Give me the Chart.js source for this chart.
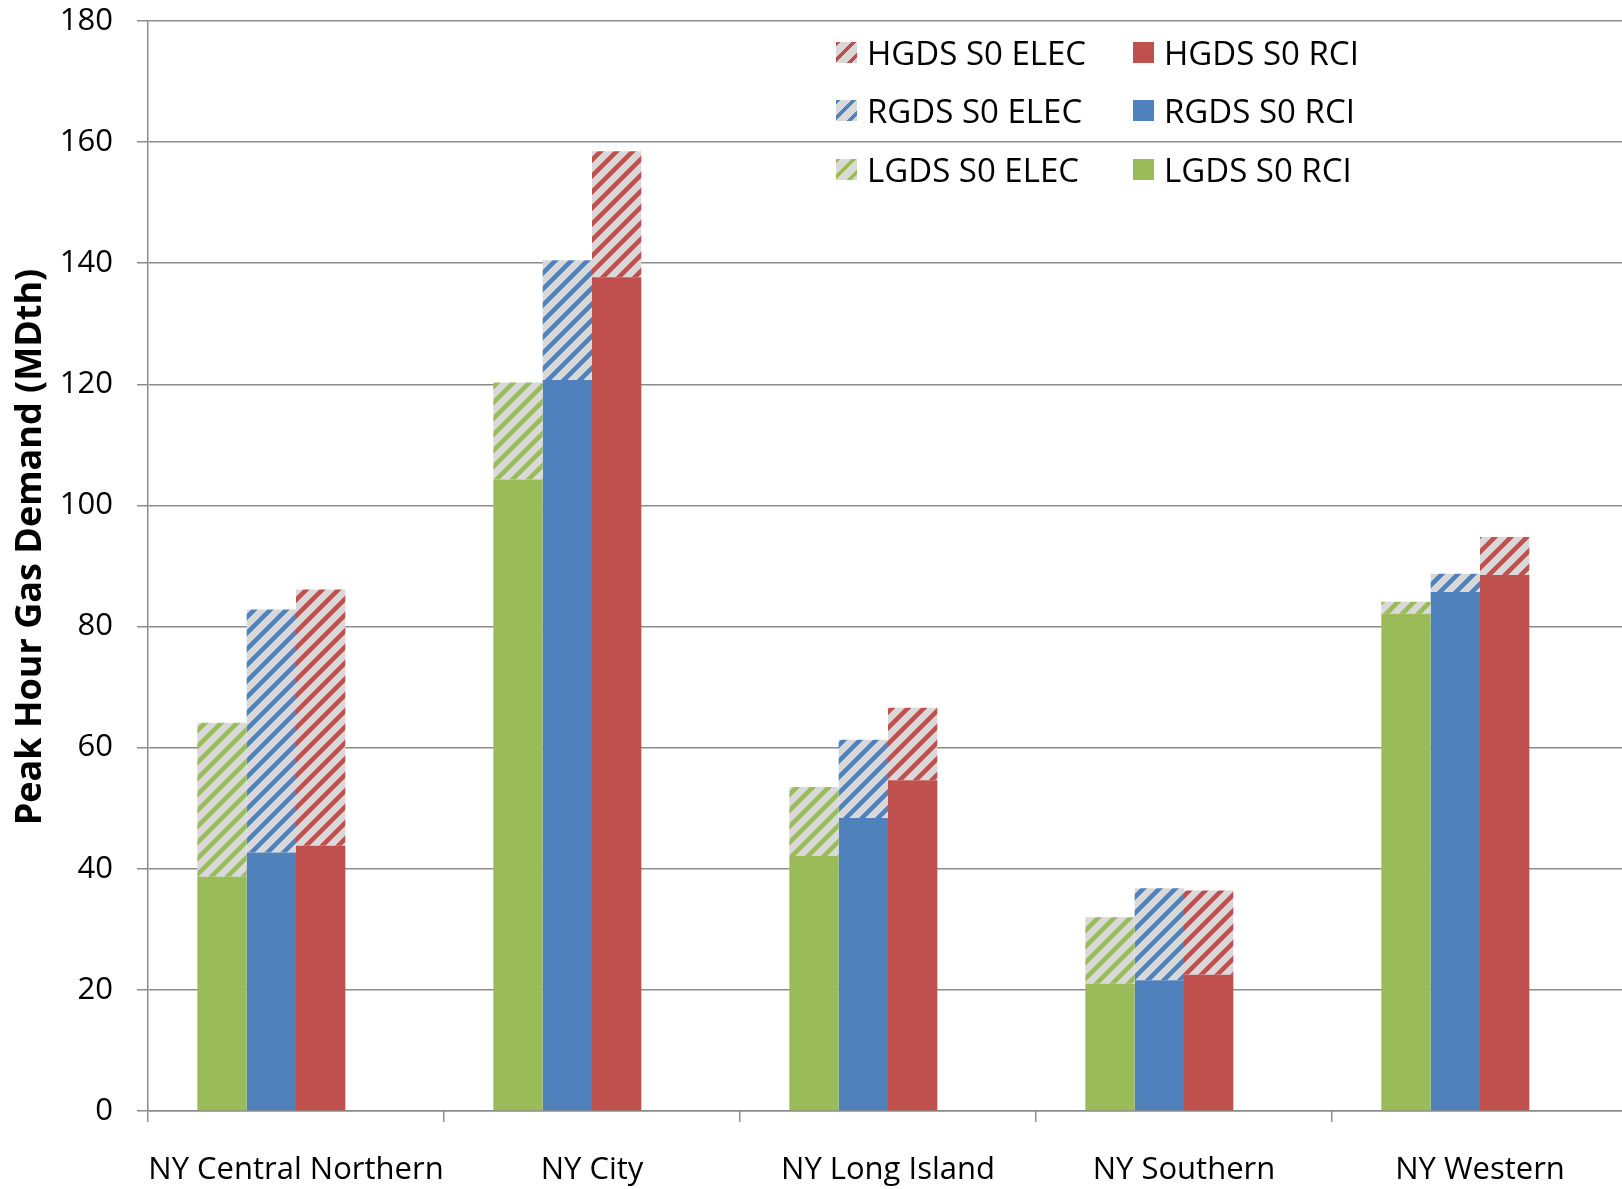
<!DOCTYPE html>
<html><head><meta charset="utf-8">
<script src="https://cdn.jsdelivr.net/npm/chart.js@4.4.1/dist/chart.umd.min.js"></script>
<style>
html,body{margin:0;padding:0;overflow:hidden;background:#fff;width:1622px;height:1189px;}
#wrap{position:relative;width:1622px;height:1189px;overflow:hidden;background:#fff;}
#c{position:absolute;left:0;top:0;}
.lg{position:absolute;height:34px;display:flex;align-items:center;font-family:"Open Sans";font-size:33px;color:#000;white-space:nowrap;}
.sw{width:21px;height:21px;margin-right:10px;flex:none;}
</style></head><body>
<div id="wrap"><canvas id="c" width="1630" height="1189" style="width:1630px;height:1189px"></canvas><div id="legend"></div></div>
<script>
// ---- data ----
const categories = ["NY Central Northern", "NY City", "NY Long Island", "NY Southern", "NY Western"];
const lgdsRci  = [38.7, 104.3, 42.1, 21.0, 82.1];
const lgdsElec = [25.4, 16.0, 11.4, 11.0, 2.0];
const rgdsRci  = [42.7, 120.7, 48.4, 21.6, 85.7];
const rgdsElec = [40.1, 19.8, 12.9, 15.2, 3.0];
const hgdsRci  = [43.8, 137.7, 54.6, 22.5, 88.5];
const hgdsElec = [42.3, 20.8, 12.0, 13.9, 6.3];
const yTicks = [0, 20, 40, 60, 80, 100, 120, 140, 160, 180];
const yTitle = "Peak Hour Gas Demand (MDth)";

const GREEN = '#9BBB59', BLUE = '#4F81BD', RED = '#C0504D', HATCH_BG = '#D9D9D9';

function hatch(color) {
  const s = 16;
  const c = document.createElement('canvas'); c.width = s; c.height = s;
  const x = c.getContext('2d');
  x.fillStyle = HATCH_BG; x.fillRect(0, 0, s, s);
  x.strokeStyle = color; x.lineWidth = 4.5; x.lineCap = 'square';
  x.beginPath();
  x.moveTo(-s/2, s/2); x.lineTo(s/2, -s/2);
  x.moveTo(0, s); x.lineTo(s, 0);
  x.moveTo(s/2, 1.5*s); x.lineTo(1.5*s, s/2);
  x.stroke();
  return document.getElementById('c').getContext('2d').createPattern(c, 'repeat');
}

const datasets = [
  {label: 'LGDS S0 RCI',  data: lgdsRci,  backgroundColor: GREEN,        stack: 'L'},
  {label: 'LGDS S0 ELEC', data: lgdsElec, backgroundColor: hatch(GREEN), stack: 'L'},
  {label: 'RGDS S0 RCI',  data: rgdsRci,  backgroundColor: BLUE,         stack: 'R'},
  {label: 'RGDS S0 ELEC', data: rgdsElec, backgroundColor: hatch(BLUE),  stack: 'R'},
  {label: 'HGDS S0 RCI',  data: hgdsRci,  backgroundColor: RED,          stack: 'H'},
  {label: 'HGDS S0 ELEC', data: hgdsElec, backgroundColor: hatch(RED),   stack: 'H'},
  {label: '', data: categories.map(() => null), backgroundColor: 'rgba(0,0,0,0)', stack: 'Z'}
];

// ---- legend (HTML) ----
const legendItems = [
  {label: 'HGDS S0 ELEC', color: RED,   hatched: true,  col: 0, row: 0},
  {label: 'HGDS S0 RCI',  color: RED,   hatched: false, col: 1, row: 0},
  {label: 'RGDS S0 ELEC', color: BLUE,  hatched: true,  col: 0, row: 1},
  {label: 'RGDS S0 RCI',  color: BLUE,  hatched: false, col: 1, row: 1},
  {label: 'LGDS S0 ELEC', color: GREEN, hatched: true,  col: 0, row: 2},
  {label: 'LGDS S0 RCI',  color: GREEN, hatched: false, col: 1, row: 2}
];
const colX = [836, 1133], rowY = [52, 110, 169];
const lg = document.getElementById('legend');
legendItems.forEach(it => {
  const d = document.createElement('div');
  d.className = 'lg';
  d.style.left = colX[it.col] + 'px';
  d.style.top = (rowY[it.row] - 17) + 'px';
  const sw = document.createElement('span');
  sw.className = 'sw';
  sw.style.background = it.hatched
    ? `repeating-linear-gradient(135deg, ${it.color} 0px, ${it.color} 3.3px, ${HATCH_BG} 3.3px, ${HATCH_BG} 11.3px)`
    : it.color;
  const t = document.createElement('span');
  t.textContent = it.label;
  d.appendChild(sw); d.appendChild(t);
  lg.appendChild(d);
});

const yTitlePlugin = {
  id: 'yTitle',
  afterDraw(chart) {
    const ctx = chart.ctx;
    ctx.save();
    ctx.translate(31, 547);
    ctx.rotate(-Math.PI / 2);
    ctx.font = 'bold 36px "Open Sans"';
    ctx.fillStyle = '#000';
    ctx.textAlign = 'center';
    ctx.textBaseline = 'middle';
    ctx.fillText(yTitle, 0, 0);
    ctx.restore();
  }
};

const GRID = '#8C8C8C';
new Chart(document.getElementById('c'), {
  type: 'bar',
  data: {labels: categories, datasets},
  plugins: [yTitlePlugin],
  options: {
    responsive: false, animation: false, devicePixelRatio: 1,
    layout: {padding: {top: 21, right: 2, left: 0, bottom: 0}},
    plugins: {legend: {display: false}, tooltip: {enabled: false}},
    datasets: {bar: {categoryPercentage: 4/6, barPercentage: 1, borderWidth: 0}},
    scales: {
      x: {
        stacked: true,
        grid: {offset: true, drawOnChartArea: false, drawTicks: true, tickLength: 11, color: GRID, lineWidth: 1.5},
        border: {color: GRID, width: 1.5},
        ticks: {font: {family: 'Open Sans', size: 31}, color: '#000', padding: 30, maxRotation: 0, autoSkip: false},
        afterFit: s => { s.height = 78; s.paddingLeft = 0; s.paddingRight = 0; }
      },
      y: {
        stacked: true, min: 0, max: 180,
        afterBuildTicks: s => { s.ticks = yTicks.map(v => ({value: v})); },
        grid: {color: GRID, lineWidth: 1.5, tickLength: 11},
        border: {color: GRID, width: 1.5},
        ticks: {font: {family: 'Open Sans', size: 31}, color: '#000', padding: 24},
        afterFit: s => { s.width = 148; s.paddingTop = 0; s.paddingBottom = 0; }
      }
    }
  }
});
</script>
</body></html>
